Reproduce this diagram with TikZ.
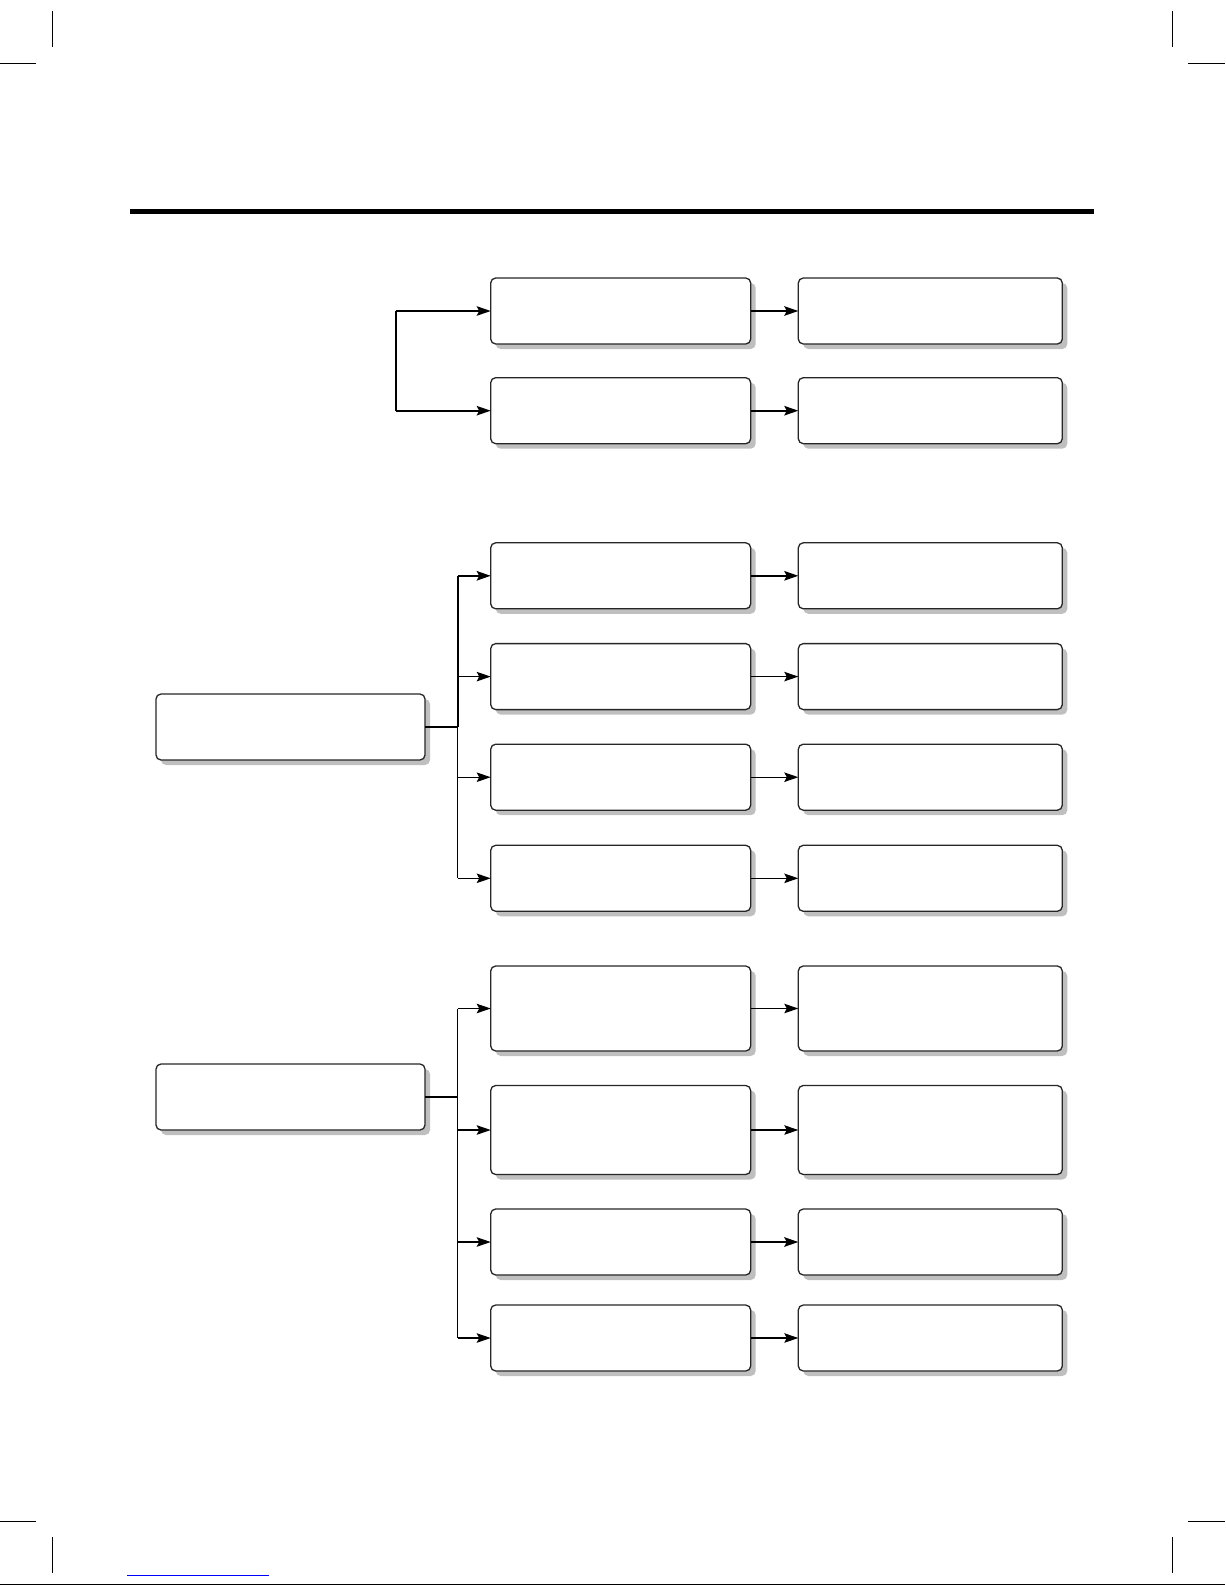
\documentclass[tikz,border=0pt]{standalone}
\usetikzlibrary{arrows.meta,shadows}
\begin{document}
\begin{tikzpicture}[x=1bp,y=-1bp,
  box/.style={draw=black!85, line width=1.3bp, fill=white, rounded corners=5bp,
    inner sep=0pt, outer sep=0pt,
    drop shadow={shadow xshift=5bp, shadow yshift=-5bp, fill=black!25, opacity=1}},
  lbox/.style={box, minimum width=260bp, minimum height=66bp},
  rbox/.style={box, minimum width=264bp, minimum height=66bp},
  sbox/.style={box, minimum width=269bp, minimum height=66bp},
  conn/.style={line width=1.1bp, -{Stealth[length=14bp,width=9.5bp,inset=2.5bp]}},
  connb/.style={line width=2bp, -{Stealth[length=14bp,width=9.5bp,inset=2.5bp]}},
  line/.style={line width=1.1bp},
  lineb/.style={line width=2bp},
  cropline/.style={line width=1bp}]
\useasboundingbox (0,0) rectangle (1225,1585);
% crop marks
\draw[cropline] (52.3,11) -- (52.3,47);
\draw[cropline] (0,63.3) -- (35.7,63.3);
\draw[cropline] (1172.3,11) -- (1172.3,47);
\draw[cropline] (1188.3,63.3) -- (1225,63.3);
\draw[cropline] (52.3,1537.3) -- (52.3,1573.3);
\draw[cropline] (0,1521.7) -- (35.7,1521.7);
\draw[cropline] (1172.3,1537.3) -- (1172.3,1573.3);
\draw[cropline] (1188.3,1521.7) -- (1225,1521.7);
\draw[cropline] (0,1584.3) -- (1225,1584.3);
\draw[blue, line width=1bp] (127.3,1575) -- (268.7,1575);
% top rule
\draw[line width=5bp] (130,211.5) -- (1094,211.5);

% section 1
\node[lbox] (a1) at (620.7,311) {};
\node[lbox] (a2) at (620.7,410.7) {};
\node[rbox] (b1) at (930.3,311) {};
\node[rbox] (b2) at (930.3,410.7) {};
\coordinate (s1t) at (395.7,311);
\coordinate (s1b) at (395.7,410.7);
\draw[line width=1.6bp] (s1b) -- (s1t);
\draw[conn, line width=1.6bp] (s1t) -- (a1.west);
\draw[conn, line width=1.6bp] (s1b) -- (a2.west);
\draw[conn, line width=1.6bp] (a1.east) -- (b1.west);
\draw[conn, line width=1.6bp] (a2.east) -- (b2.west);

% section 2
\node[sbox] (m2) at (290.5,727) {};
\node[lbox] (c1) at (620.7,575.8) {};
\node[lbox] (c2) at (620.7,676.6) {};
\node[lbox] (c3) at (620.7,777.2) {};
\node[lbox] (c4) at (620.7,878.3) {};
\node[rbox] (d1) at (930.3,575.8) {};
\node[rbox] (d2) at (930.3,676.6) {};
\node[rbox] (d3) at (930.3,777.2) {};
\node[rbox] (d4) at (930.3,878.3) {};
\coordinate (bus2) at (457.8,727);
\draw[lineb] (m2.east) -- (bus2);
\draw[lineb] (bus2) -- (bus2 |- c1.west);
\draw[line] (bus2) -- (bus2 |- c4.west);
\draw[connb] (bus2 |- c1.west) -- (c1.west);
\draw[conn] (bus2 |- c2.west) -- (c2.west);
\draw[conn] (bus2 |- c3.west) -- (c3.west);
\draw[conn] (bus2 |- c4.west) -- (c4.west);
\draw[connb] (c1.east) -- (d1.west);
\draw[conn] (c2.east) -- (d2.west);
\draw[conn] (c3.east) -- (d3.west);
\draw[conn] (c4.east) -- (d4.west);

% section 3
\node[sbox] (m3) at (290.5,1097) {};
\node[lbox, minimum height=85bp] (e1) at (620.7,1008.5) {};
\node[lbox, minimum height=89bp] (e2) at (620.7,1130) {};
\node[lbox] (e3) at (620.7,1242) {};
\node[lbox] (e4) at (620.7,1338) {};
\node[rbox, minimum height=85bp] (f1) at (930.3,1008.5) {};
\node[rbox, minimum height=89bp] (f2) at (930.3,1130) {};
\node[rbox] (f3) at (930.3,1242) {};
\node[rbox] (f4) at (930.3,1338) {};
\coordinate (bus3) at (457.8,1097);
\draw[lineb] (m3.east) -- (bus3);
\draw[line] (bus3 |- e1.west) -- (bus3 |- e4.west);
\draw[conn] (bus3 |- e1.west) -- (e1.west);
\draw[conn] (bus3 |- e2.west) -- (e2.west);
\draw[conn] (bus3 |- e3.west) -- (e3.west);
\draw[conn] (bus3 |- e4.west) -- (e4.west);
\draw[conn] (e1.east) -- (f1.west);
\draw[conn] (e2.east) -- (f2.west);
\draw[connb] (e3.east) -- (f3.west);
\draw[conn] (e4.east) -- (f4.west);
\end{tikzpicture}
\end{document}
